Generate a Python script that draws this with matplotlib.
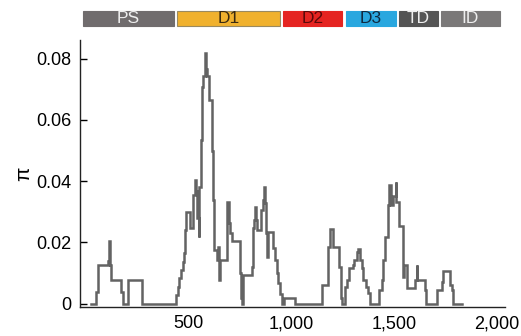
import matplotlib
matplotlib.use("Agg")
import matplotlib.pyplot as plt
from matplotlib.patches import Rectangle

plt.rcParams['font.family'] = ['Liberation Sans', 'DejaVu Sans']

# step positions (left edges) and nucleotide diversity values
position = [23, 49, 60, 108, 113, 117, 121, 169, 179, 206,
            271, 438, 446, 454, 462, 470, 477, 482, 487, 507,
            520, 529, 535, 542, 549, 552, 558, 565, 571, 578,
            584, 591, 600, 612, 618, 624, 636, 644, 647, 652,
            685, 695, 703, 711, 750, 754, 760, 766, 807, 811,
            818, 821, 826, 831, 851, 860, 867, 872, 876, 883,
            888, 912, 920, 928, 936, 945, 953, 964, 1020, 1150,
            1180, 1188, 1201, 1233, 1240, 1245, 1261, 1269, 1282, 1298,
            1306, 1318, 1326, 1334, 1342, 1350, 1363, 1374, 1383, 1428,
            1440, 1448, 1456, 1472, 1477, 1483, 1495, 1507, 1511, 1525,
            1542, 1548, 1564, 1602, 1610, 1613, 1650, 1655, 1707, 1735,
            1740, 1772, 1780, 1788, 1829]
pi_values = [0, 0.0039, 0.0126, 0.0140, 0.0206, 0.0126, 0.0077, 0.0039, 0, 0.0077,
             0, 0.0028, 0.0055, 0.0083, 0.0110, 0.0137, 0.0164, 0.0241, 0.0300, 0.0246,
             0.0355, 0.0404, 0.0367, 0.0280, 0.0219, 0.0382, 0.0535, 0.0709, 0.0742, 0.0818,
             0.0765, 0.0742, 0.0665, 0.0500, 0.0340, 0.0175, 0.0143, 0.0186, 0.0077, 0.0143,
             0.0333, 0.0262, 0.0230, 0.0203, 0.0101, 0.0017, 0, 0.0094, 0.0121, 0.0246,
             0.0273, 0.0317, 0.0273, 0.0241, 0.0306, 0.0339, 0.0382, 0.0330, 0.0230, 0.0153,
             0.0235, 0.0181, 0.0143, 0.0099, 0.0066, 0.0033, 0, 0.0017, 0, 0.0060,
             0.0186, 0.0243, 0.0186, 0.0121, 0.0017, 0, 0.0055, 0.0077, 0.0115, 0.0125,
             0.0143, 0.0170, 0.0180, 0.0143, 0.0115, 0.0077, 0.0055, 0.0034, 0, 0.0045,
             0.0077, 0.0143, 0.0219, 0.0322, 0.0388, 0.0322, 0.0350, 0.0397, 0.0333, 0.0252,
             0.0088, 0.0126, 0.0050, 0.0077, 0.0126, 0.0077, 0.0045, 0, 0.0045, 0.0070,
             0.0105, 0.0061, 0.0045, 0, 0]

y_ticks = [0, 0.02, 0.04, 0.06, 0.08]
y_tick_labels = ['0', '0.02', '0.04', '0.06', '0.08']
x_ticks = [500, 1000, 1500, 2000]
x_tick_labels = ['500', '1,000', '1,500', '2,000']

domains = ['PS', 'D1', 'D2', 'D3', 'TD', 'ID']
domain_colors = ['#706c6d', '#f0b12e', '#e52421', '#29a7df', '#545454', '#7a7878']
domain_text_colors = ['#eeeeee', '#3a2a10', '#5a0a0a', '#102a40', '#eeeeee', '#eeeeee']

W, H = 521, 336
fig = plt.figure(figsize=(W / 100, H / 100), dpi=100)
ax = fig.add_axes([80 / W, (H - 306.7) / H, (505 - 80) / W, (306.7 - 40) / H])

ax.plot(position, pi_values, drawstyle='steps-post', color='#636363', lw=1.8,
        solid_joinstyle='miter')
ax.set_xlim(-29, 2040)
ax.set_ylim(-0.001, 0.0861)
ax.set_yticks(y_ticks)
ax.set_yticklabels(y_tick_labels)
ax.set_xticks(x_ticks)
ax.set_xticklabels(x_tick_labels)
ax.tick_params(axis='y', direction='in', length=5, width=1, labelsize=13, pad=6)
ax.tick_params(axis='x', length=0, labelsize=13, pad=6)
for s in ['top', 'right']:
    ax.spines[s].set_visible(False)
for s in ['left', 'bottom']:
    ax.spines[s].set_linewidth(1.0)
    ax.spines[s].set_color('#222222')
ax.set_ylabel('π', fontsize=15, rotation=90, labelpad=2)

# domain bar across top
seg_px = [(83, 174), (177, 280), (283, 342), (346, 396), (399, 438), (441, 500)]
y0, y1 = 11, 26
for (a, b), name, col, tcol in zip(seg_px, domains, domain_colors, domain_text_colors):
    rect = Rectangle((a / W, (H - y1) / H), (b - a) / W, (y1 - y0) / H,
                     transform=fig.transFigure, facecolor=col,
                     edgecolor='#9a8a60' if name == 'D1' else col, lw=0.8)
    fig.patches.append(rect)
    fig.text((a + b) / 2 / W, (H - (y0 + y1) / 2) / H, name, color=tcol,
             ha='center', va='center', fontsize=12.5)

fig.savefig('out.png', dpi=100)
